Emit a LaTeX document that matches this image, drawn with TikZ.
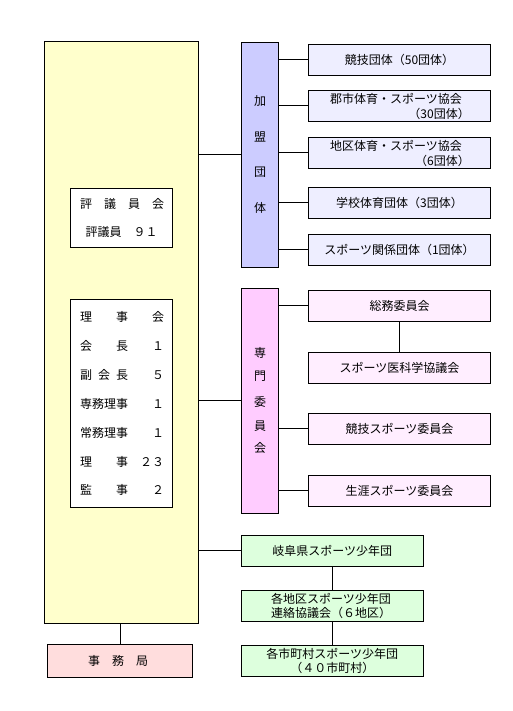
\documentclass[tikz,border=0pt]{standalone}
\usepackage{fontspec}
\setmainfont{Noto Sans CJK JP}
\newfontfamily\jpfont{Noto Sans CJK JP}
\definecolor{cyellow}{HTML}{FFFFCC}
\definecolor{cbluebar}{HTML}{CCCCFF}
\definecolor{cbluebox}{HTML}{EEEEFF}
\definecolor{cpinkbar}{HTML}{FFCCFF}
\definecolor{cpinkbox}{HTML}{FFEEFF}
\definecolor{cgreen}{HTML}{DDFFDD}
\definecolor{cred}{HTML}{FFDDDD}
\begin{document}
\begin{tikzpicture}[x=1pt,y=-1pt,
  frame/.style={draw=black, line width=1pt, inner sep=0pt, rectangle},
  txt/.style={inner sep=0pt, font=\jpfont\fontsize{12pt}{14pt}\selectfont, align=center},
  wire/.style={draw=black, line width=1pt},
  rbox/.style={frame, minimum width=182.4pt, minimum height=31pt},
  bar/.style={frame, minimum width=37.4pt, minimum height=225pt}
]
\useasboundingbox (0,0) rectangle (512,711);
\fill[white] (0,0) rectangle (512,711);

% main yellow block
\node[frame, fill=cyellow, minimum width=154.4pt, minimum height=582pt] (main) at (121.5,332.3) {};
\node[frame, fill=white, minimum width=102.4pt, minimum height=59pt] (hyogi) at (121.5,217.8) {};
\node[frame, fill=white, minimum width=102.4pt, minimum height=208.4pt] (riji) at (121.5,403.5) {};
\node[txt] (h1) at (122,204) {評　議　員　会};
\node[txt] (h2) at (121.5,232) {評議員　９１};
\node[txt, anchor=west] (r1) at (80,317.3) {理　　事　　会};
\node[txt, anchor=west] (r2) at (80,346) {会　　長　　１};
\node[txt, anchor=west] (r3) at (80,375) {副\hspace{6pt}会\hspace{6pt}長　　５};
\node[txt, anchor=west] (r4) at (80,404) {専務理事　　１};
\node[txt, anchor=west] (r5) at (80,432.7) {常務理事　　１};
\node[txt, anchor=west] (r6) at (80,461.7) {理　　事　２３};
\node[txt, anchor=west] (r7) at (80,490) {監　　事　　２};

% jimukyoku
\node[frame, fill=cred, minimum width=145.4pt, minimum height=33pt] (jimu) at (120,660.8) {};
\node[txt] (jimut) at (118,660.8) {事　務　局};
\draw[wire] (jimu.north) -- (jimu.north |- main.south);

% kamei dantai
\node[bar, fill=cbluebar] (kbar) at (260,154.8) {};
\foreach \c/\y [count=\i] in {加/101,盟/137.3,団/172.7,体/208.3}
  \node[txt] (kc\i) at (260,\y) {\c};
\node[rbox, fill=cbluebox] (b1) at (399.5,59.8) {};
\node[rbox, fill=cbluebox] (b2) at (399.5,105.8) {};
\node[rbox, fill=cbluebox] (b3) at (399.5,152.7) {};
\node[rbox, fill=cbluebox] (b4) at (399.5,202.8) {};
\node[rbox, fill=cbluebox] (b5) at (399.5,249.8) {};
\node[txt] (b1t) at (399.5,59.8) {競技団体（50団体）};
\node[txt, anchor=west] (b2t) at (330,99) {郡市体育・スポーツ協会};
\node[txt, anchor=east] (b2u) at (470,113.5) {（30団体）};
\node[txt, anchor=west] (b3t) at (330,145.5) {地区体育・スポーツ協会};
\node[txt, anchor=east] (b3u) at (470,160.5) {（6団体）};
\node[txt] (b4t) at (399.5,202.8) {学校体育団体（3団体）};
\node[txt] (b5t) at (399.5,249.8) {スポーツ関係団体（1団体）};
\foreach \b in {b1,b2,b3,b4,b5}
  \draw[wire] (\b.west) -- (\b.west -| kbar.east);
\draw[wire] (kbar.west) -- (kbar.west -| main.east);

% senmon iinkai
\node[bar, fill=cpinkbar] (pbar) at (260,400.8) {};
\foreach \c/\y [count=\i] in {専/352.7,門/376.7,委/401.7,員/426,会/448.3}
  \node[txt] (pc\i) at (260,\y) {\c};
\node[rbox, fill=cpinkbox] (p1) at (399.5,305.8) {};
\node[rbox, fill=cpinkbox] (p2) at (399.5,367.8) {};
\node[rbox, fill=cpinkbox] (p3) at (399.5,428.8) {};
\node[rbox, fill=cpinkbox] (p4) at (399.5,490.8) {};
\node[txt] (p1t) at (399.5,305.8) {総務委員会};
\node[txt] (p2t) at (399.5,367.8) {スポーツ医科学協議会};
\node[txt] (p3t) at (399.5,428.8) {競技スポーツ委員会};
\node[txt] (p4t) at (399.5,490.8) {生涯スポーツ委員会};
\foreach \b in {p1,p3,p4}
  \draw[wire] (\b.west) -- (\b.west -| pbar.east);
\draw[wire] (p1.south) -- (p2.north);
\draw[wire] (pbar.west) -- (pbar.west -| main.east);

% sports shonendan
\node[frame, fill=cgreen, minimum width=182pt, minimum height=31pt] (g1) at (332.3,550.8) {};
\node[frame, fill=cgreen, minimum width=182pt, minimum height=31pt] (g2) at (332.3,605.8) {};
\node[frame, fill=cgreen, minimum width=182pt, minimum height=31pt] (g3) at (332.3,660.8) {};
\node[txt] (g1t) at (332.3,550.8) {岐阜県スポーツ少年団};
\node[txt] (g2t) at (331,605.8) {各地区スポーツ少年団\\連絡協議会（６地区）};
\node[txt] (g3t) at (332.3,660.8) {各市町村スポーツ少年団\\（４０市町村）};
\draw[wire] (g1.west) -- (g1.west -| main.east);
\draw[wire] (g1.south) -- (g2.north);
\draw[wire] (g2.south) -- (g3.north);
\end{tikzpicture}
\end{document}
